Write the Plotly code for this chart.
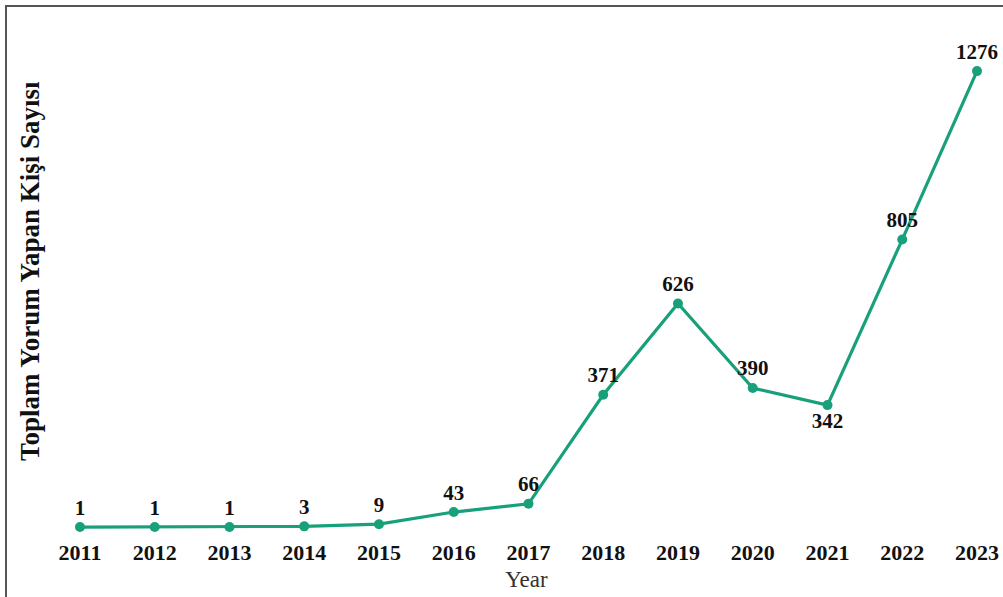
import plotly.graph_objects as go

years = [2011, 2012, 2013, 2014, 2015, 2016, 2017, 2018, 2019, 2020, 2021, 2022, 2023]
counts = [1, 1, 1, 3, 9, 43, 66, 371, 626, 390, 342, 805, 1276]
label_pos = ["top center"] * 10 + ["bottom center", "top center", "top center"]

W, H = 1003, 597
ml, mr, mt, mb = 50, 0, 40, 57
pw, ph = W - ml - mr, H - mt - mb

def px_to_paper_x(px):
    return (px - ml) / pw

def px_to_paper_y(py):
    return (H - mb - py) / ph

line_color = "#18a07b"
serif = "Liberation Serif"

fig = go.Figure(go.Scatter(
    x=years, y=counts,
    mode="lines+markers+text",
    line=dict(color=line_color, width=3.2),
    marker=dict(color=line_color, size=10),
    text=[str(c) for c in counts],
    textposition=label_pos,
    textfont=dict(family=serif, size=21, color="#111111", weight="bold"),
    cliponaxis=False,
    hoverinfo="x+y",
))

fig.update_layout(
    width=W, height=H,
    margin=dict(l=ml, r=mr, t=mt, b=mb),
    paper_bgcolor="white", plot_bgcolor="white",
    showlegend=False,
    xaxis=dict(
        range=[2010.599, 2023.348],
        tickmode="array", tickvals=years, ticktext=[str(y) for y in years],
        tickfont=dict(family=serif, size=22, color="#111111", weight="bold"),
        ticklabelstandoff=-3,
        showgrid=False, zeroline=False, showline=False, ticks="",
        title=dict(text="Year", font=dict(family=serif, size=23, color="#333333"), standoff=6),
    ),
    yaxis=dict(
        range=[-35.2, 1363],
        showgrid=False, zeroline=False, showline=False, showticklabels=False, ticks="",
    ),
    annotations=[dict(
        text="Toplam Yorum Yapan Kişi Sayısı",
        textangle=-90,
        xref="paper", yref="paper",
        x=px_to_paper_x(30), y=px_to_paper_y(271),
        xanchor="center", yanchor="middle", showarrow=False,
        font=dict(family=serif, size=27, color="#111111", weight="bold"),
    )],
    shapes=[dict(
        type="rect", xref="paper", yref="paper",
        x0=px_to_paper_x(6), x1=px_to_paper_x(1012),
        y0=px_to_paper_y(605), y1=px_to_paper_y(6),
        line=dict(color="#555555", width=2), fillcolor="rgba(0,0,0,0)", layer="below",
    )],
)

fig.write_html("out.html")
